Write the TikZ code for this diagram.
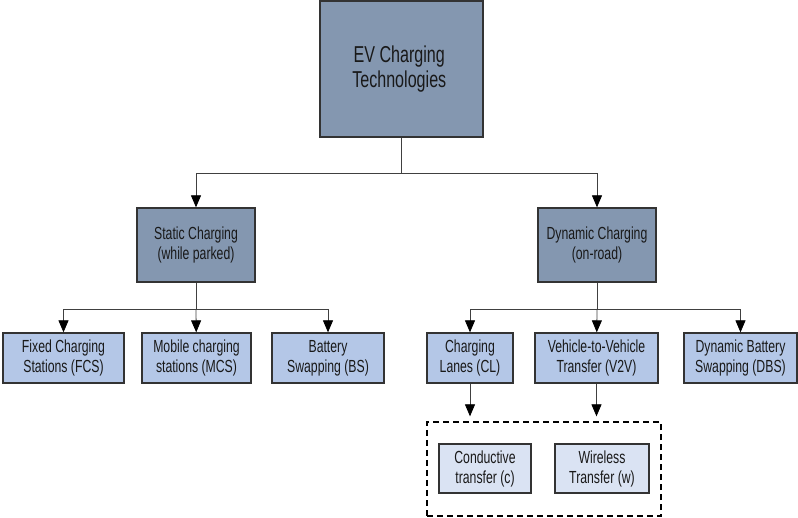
\documentclass[tikz,border=0pt]{standalone}
\usepackage{fontspec}
\newfontfamily\boxfont{Liberation Sans}[FakeStretch=0.7]
\usepackage{tikz}
\usetikzlibrary{positioning,arrows.meta}

\definecolor{topfill}{HTML}{8497B0}
\definecolor{midfill}{HTML}{B4C7E7}
\definecolor{lowfill}{HTML}{DAE3F3}
\definecolor{boxline}{HTML}{333333}
\definecolor{wire}{HTML}{404040}

\begin{document}
\begin{tikzpicture}[x = 1pt, y = -1pt,
    box/.style = {draw = boxline, line width = 1.3pt, align = center,
      text = black!90, inner sep = 0pt,
      font = \boxfont\fontsize{17.5}{20}\selectfont},
    bigbox/.style = {box, fill = topfill},
    subbox/.style = {box, fill = midfill},
    leafbox/.style = {box, fill = lowfill},
    link/.style = {draw = wire, line width = 0.8pt,
      -{Triangle[length = 12pt, width = 10pt, color = black]}}]
  \useasboundingbox (0, 0) rectangle (798, 518);

  % root
  \node[bigbox, minimum width = 163, minimum height = 136,
    font = \boxfont\fontsize{23}{22}\selectfont] (root) at (401.5, 69){
    \raisebox{-4pt}{\shortstack{EV Charging\\[1pt]Technologies}}
  };

  % second level
  \node[bigbox, minimum width = 118, minimum height = 74] (static) at (196, 245){
    Static Charging\\(while parked)
  };

  \node[bigbox, minimum width = 118, minimum height = 74] (dynamic) at (597, 245){
    Dynamic Charging\\(on-road)
  };

  % third level
  \node[subbox, minimum width = 121, minimum height = 50] (fcs) at (63.5, 358){
    Fixed Charging\\Stations (FCS)
  };

  \node[subbox, minimum width = 109, minimum height = 50] (mcs) at (196.5, 358){
    Mobile charging\\stations (MCS)
  };

  \node[subbox, minimum width = 112, minimum height = 50] (bs) at (328, 358){
    Battery\\Swapping (BS)
  };

  \node[subbox, minimum width = 86, minimum height = 50] (cl) at (470, 358){
    Charging\\Lanes (CL)
  };

  \node[subbox, minimum width = 123, minimum height = 50] (v2v) at (596.5, 358){
    Vehicle-to-Vehicle\\Transfer (V2V)
  };

  \node[subbox, minimum width = 113, minimum height = 50] (dbs) at (740.5, 358){
    Dynamic Battery\\Swapping (DBS)
  };

  % transfer modes
  \node[draw, dash pattern = on 6pt off 4pt, line width = 1.3pt,
    minimum width = 234, minimum height = 94] (modes) at (544, 469){};

  \node[leafbox, minimum width = 92, minimum height = 49] (cond) at (485, 468.5){
    Conductive\\transfer (c)
  };

  \node[leafbox, minimum width = 94, minimum height = 49] (wless) at (602, 468.5){
    Wireless\\Transfer (w)
  };

  \coordinate (split0) at (401.5, 173);
  \coordinate (split1) at (196, 309);
  \coordinate (split2) at (597, 309);

  \draw[draw = wire, line width = 0.8pt] (root) -- (split0);
  \draw[link] (split0) -| (static);
  \draw[link] (split0) -| (dynamic);

  \draw[draw = wire, line width = 0.8pt] (static) -- (split1);
  \draw[link] (split1) -| (fcs);
  \draw[link] (split1) -- (mcs);
  \draw[link] (split1) -| (bs);

  \draw[draw = wire, line width = 0.8pt] (dynamic) -- (split2);
  \draw[link] (split2) -| (cl);
  \draw[link] (split2) -- (v2v);
  \draw[link] (split2) -| (dbs);

  \draw[link, shorten > = 5pt] (cl) -- (cl.south |- modes.north);
  \draw[link, shorten > = 5pt] (v2v) -- (v2v.south |- modes.north);
\end{tikzpicture}
\end{document}
